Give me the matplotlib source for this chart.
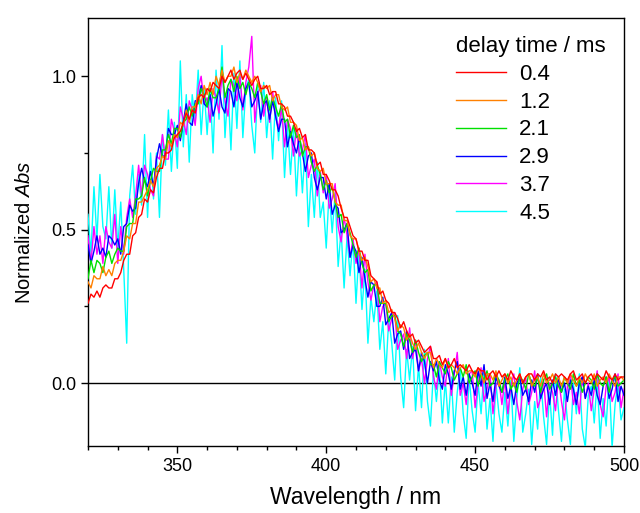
import numpy as np
import matplotlib
matplotlib.use("Agg")
import matplotlib.pyplot as plt
from matplotlib.ticker import MultipleLocator

plt.rcParams['font.family'] = ['Liberation Sans', 'DejaVu Sans']
plt.rcParams['mathtext.fontset'] = 'custom'
plt.rcParams['mathtext.rm'] = 'Liberation Sans'
plt.rcParams['mathtext.it'] = 'Liberation Sans:italic'

wavelength = np.arange(320, 501, 1)

delay_labels = ['0.4', '1.2', '2.1', '2.9', '3.7', '4.5']
colors = ['#ff0000', '#ff8000', '#00e000', '#0000ff', '#ff00ff', '#00ffff']

abs_04 = [
    0.26, 0.29, 0.28, 0.30, 0.28, 0.31, 0.32, 0.31, 0.31, 0.34,
    0.34, 0.36, 0.40, 0.42, 0.42, 0.48, 0.49, 0.54, 0.55, 0.60,
    0.59, 0.63, 0.62, 0.67, 0.70, 0.70, 0.75, 0.75, 0.76, 0.80,
    0.81, 0.82, 0.85, 0.88, 0.86, 0.89, 0.88, 0.93, 0.94, 0.93,
    0.96, 0.95, 0.98, 0.97, 0.96, 1.00, 0.98, 1.00, 1.02, 0.99,
    1.01, 1.02, 0.99, 1.01, 0.99, 0.97, 0.99, 1.00, 0.96, 0.96,
    0.97, 0.94, 0.95, 0.95, 0.91, 0.91, 0.90, 0.87, 0.87, 0.85,
    0.82, 0.83, 0.80, 0.81, 0.76, 0.76, 0.75, 0.71, 0.72, 0.68,
    0.68, 0.66, 0.63, 0.63, 0.61, 0.57, 0.54, 0.54, 0.51, 0.48,
    0.47, 0.43, 0.43, 0.40, 0.40, 0.35, 0.34, 0.33, 0.29, 0.30,
    0.27, 0.26, 0.23, 0.23, 0.21, 0.18, 0.20, 0.17, 0.15, 0.16,
    0.13, 0.14, 0.12, 0.10, 0.11, 0.12, 0.08, 0.08, 0.09, 0.06,
    0.08, 0.05, 0.06, 0.08, 0.05, 0.06, 0.05, 0.04, 0.06, 0.04,
    0.03, 0.05, 0.04, 0.04, 0.01, 0.03, 0.04, 0.02, 0.04, 0.02,
    0.03, 0.01, 0.04, 0.02, 0.01, 0.03, 0.00, 0.02, 0.03, 0.03,
    0.01, 0.03, 0.02, 0.04, 0.01, 0.02, 0.00, 0.03, 0.02, 0.03,
    0.02, 0.01, 0.03, 0.04, 0.01, 0.02, 0.03, 0.00, 0.02, 0.03,
    0.01, 0.03, 0.02, 0.01, 0.04, 0.02, 0.01, 0.03, 0.01, 0.02,
    0.02]

abs_12 = [
    0.33, 0.31, 0.35, 0.34, 0.34, 0.38, 0.35, 0.37, 0.35, 0.39,
    0.40, 0.40, 0.43, 0.48, 0.47, 0.52, 0.52, 0.59, 0.59, 0.61,
    0.63, 0.66, 0.64, 0.70, 0.71, 0.74, 0.73, 0.79, 0.77, 0.81,
    0.80, 0.85, 0.84, 0.89, 0.85, 0.90, 0.90, 0.94, 0.91, 0.97,
    0.94, 0.98, 0.94, 1.00, 0.97, 1.02, 0.98, 1.00, 1.00, 1.03,
    0.98, 1.01, 0.99, 1.02, 1.00, 0.98, 1.00, 0.98, 0.95, 0.97,
    0.96, 0.97, 0.92, 0.94, 0.94, 0.90, 0.89, 0.90, 0.85, 0.85,
    0.84, 0.79, 0.80, 0.76, 0.77, 0.74, 0.75, 0.70, 0.69, 0.70,
    0.65, 0.65, 0.65, 0.59, 0.58, 0.58, 0.53, 0.53, 0.48, 0.47,
    0.47, 0.43, 0.40, 0.41, 0.38, 0.33, 0.34, 0.31, 0.31, 0.26,
    0.27, 0.23, 0.24, 0.21, 0.17, 0.19, 0.18, 0.14, 0.16, 0.13,
    0.11, 0.13, 0.10, 0.08, 0.10, 0.10, 0.05, 0.08, 0.06, 0.05,
    0.08, 0.05, 0.06, 0.05, 0.03, 0.05, 0.06, 0.03, 0.04, 0.04,
    0.02, 0.05, 0.03, 0.00, 0.03, 0.03, 0.01, 0.04, -0.01, 0.01,
    0.03, 0.00, 0.02, -0.01, 0.01, 0.03, 0.00, 0.02, 0.03, -0.01,
    0.01, 0.02, -0.01, 0.03, 0.00, 0.01, 0.03, 0.00, 0.02, -0.01,
    0.02, 0.00, 0.03, 0.01, -0.01, 0.02, 0.00, 0.03, 0.01, 0.00,
    0.03, -0.01, 0.01, 0.02, 0.00, 0.03, 0.01, -0.01, 0.02, 0.02,
    0.01]

abs_21 = [
    0.34, 0.40, 0.36, 0.40, 0.39, 0.36, 0.41, 0.43, 0.39, 0.42,
    0.44, 0.43, 0.43, 0.51, 0.52, 0.52, 0.60, 0.60, 0.61, 0.67,
    0.61, 0.66, 0.70, 0.69, 0.69, 0.76, 0.76, 0.81, 0.78, 0.83,
    0.83, 0.80, 0.85, 0.86, 0.90, 0.87, 0.91, 0.91, 0.96, 0.94,
    0.90, 0.96, 0.93, 0.93, 0.96, 1.03, 0.93, 0.97, 0.99, 0.95,
    1.00, 0.96, 0.98, 0.94, 0.98, 0.96, 0.93, 0.98, 0.95, 0.91,
    0.94, 0.89, 0.93, 0.90, 0.87, 0.91, 0.85, 0.86, 0.80, 0.84,
    0.80, 0.81, 0.74, 0.77, 0.77, 0.72, 0.69, 0.71, 0.68, 0.63,
    0.66, 0.62, 0.64, 0.59, 0.54, 0.55, 0.49, 0.52, 0.49, 0.45,
    0.41, 0.44, 0.39, 0.36, 0.37, 0.30, 0.32, 0.32, 0.26, 0.26,
    0.26, 0.20, 0.22, 0.22, 0.17, 0.16, 0.12, 0.16, 0.14, 0.10,
    0.14, 0.10, 0.07, 0.09, 0.10, 0.06, 0.06, 0.02, 0.07, 0.05,
    0.03, 0.07, 0.05, 0.01, 0.03, 0.05, 0.02, 0.06, 0.00, 0.02,
    0.04, -0.01, 0.03, 0.01, 0.04, -0.01, 0.00, 0.03, 0.01, -0.03,
    0.01, 0.03, -0.02, 0.00, -0.03, 0.02, 0.01, -0.02, 0.03, 0.00,
    -0.01, 0.02, -0.03, 0.01, 0.03, -0.02, 0.00, 0.02, -0.01, -0.03,
    0.02, 0.00, -0.02, 0.03, -0.01, 0.01, -0.03, 0.00, 0.02, 0.01,
    -0.02, 0.03, 0.00, -0.01, 0.02, -0.03, 0.01, 0.02, -0.01, 0.00,
    0.01]

abs_29 = [
    0.45, 0.39, 0.43, 0.48, 0.42, 0.44, 0.41, 0.48, 0.47, 0.45,
    0.47, 0.42, 0.51, 0.52, 0.58, 0.56, 0.57, 0.65, 0.70, 0.66,
    0.64, 0.69, 0.64, 0.73, 0.78, 0.74, 0.74, 0.83, 0.81, 0.81,
    0.84, 0.79, 0.85, 0.91, 0.85, 0.84, 0.92, 0.92, 0.97, 0.91,
    0.90, 0.94, 0.87, 0.91, 0.96, 0.90, 0.88, 0.96, 0.95, 0.90,
    0.98, 0.93, 0.90, 0.96, 0.98, 0.90, 0.92, 0.95, 0.86, 0.91,
    0.92, 0.86, 0.92, 0.87, 0.82, 0.86, 0.86, 0.77, 0.82, 0.78,
    0.75, 0.80, 0.75, 0.69, 0.74, 0.75, 0.67, 0.63, 0.67, 0.67,
    0.60, 0.65, 0.55, 0.58, 0.57, 0.49, 0.50, 0.52, 0.41, 0.45,
    0.43, 0.36, 0.41, 0.34, 0.28, 0.33, 0.32, 0.25, 0.25, 0.28,
    0.19, 0.21, 0.23, 0.13, 0.16, 0.17, 0.11, 0.17, 0.08, 0.10,
    0.11, 0.04, 0.10, 0.07, 0.00, 0.07, 0.04, 0.07, 0.01, -0.02,
    0.06, 0.03, -0.02, 0.04, 0.07, -0.02, 0.02, -0.04, 0.03, 0.00,
    -0.04, 0.04, -0.01, 0.06, -0.05, 0.00, -0.06, 0.02, -0.01, -0.03,
    0.02, -0.05, -0.01, -0.07, 0.00, 0.02, -0.04, -0.02, -0.06, 0.01,
    -0.03, 0.03, -0.05, -0.02, 0.00, -0.07, 0.01, -0.04, 0.02, -0.03,
    0.00, -0.06, 0.01, -0.02, -0.07, 0.00, 0.02, -0.05, -0.01, -0.04,
    0.01, -0.04, -0.07, -0.01, 0.02, -0.05, -0.02, 0.03, -0.06, -0.01,
    -0.04]

abs_37 = [
    0.48, 0.39, 0.51, 0.42, 0.48, 0.39, 0.51, 0.46, 0.44, 0.55,
    0.39, 0.51, 0.42, 0.54, 0.60, 0.54, 0.61, 0.71, 0.61, 0.71,
    0.68, 0.63, 0.61, 0.74, 0.73, 0.81, 0.73, 0.73, 0.86, 0.82,
    0.77, 0.90, 0.86, 0.81, 0.92, 0.89, 0.84, 0.96, 1.00, 0.91,
    0.93, 0.85, 0.96, 0.93, 0.88, 1.01, 0.92, 0.87, 0.99, 0.97,
    0.92, 1.00, 0.89, 0.98, 1.03, 1.13, 0.85, 0.94, 0.97, 0.87,
    0.93, 0.85, 0.95, 0.87, 0.83, 0.90, 0.77, 0.86, 0.83, 0.74,
    0.83, 0.74, 0.76, 0.81, 0.67, 0.71, 0.73, 0.61, 0.69, 0.62,
    0.68, 0.57, 0.60, 0.65, 0.51, 0.46, 0.54, 0.48, 0.41, 0.47,
    0.39, 0.44, 0.31, 0.42, 0.33, 0.27, 0.32, 0.33, 0.20, 0.25,
    0.26, 0.17, 0.21, 0.23, 0.11, 0.14, 0.16, 0.08, 0.18, 0.08,
    0.14, 0.04, 0.08, 0.00, 0.08, 0.12, 0.02, -0.02, 0.07, 0.02,
    -0.01, 0.08, -0.04, 0.03, 0.10, -0.04, 0.00, -0.07, 0.03, 0.04,
    -0.08, 0.00, 0.05, -0.06, -0.02, 0.03, -0.10, -0.01, 0.01, -0.07,
    0.01, -0.10, -0.01, 0.03, -0.06, -0.12, -0.02, 0.02, -0.07, -0.03,
    0.04, -0.08, -0.05, 0.01, -0.11, 0.00, -0.03, -0.09, 0.02, -0.06,
    -0.12, -0.01, 0.03, -0.07, -0.03, -0.10, 0.02, -0.05, 0.00, -0.09,
    -0.02, 0.04, -0.07, -0.11, -0.01, 0.02, -0.06, -0.03, 0.03, -0.08,
    -0.02]

abs_45 = [
    0.55, 0.42, 0.64, 0.47, 0.68, 0.51, 0.47, 0.64, 0.44, 0.63,
    0.44, 0.59, 0.37, 0.13, 0.61, 0.71, 0.55, 0.68, 0.58, 0.81,
    0.54, 0.75, 0.60, 0.75, 0.54, 0.81, 0.71, 0.89, 0.69, 0.85,
    0.70, 1.05, 0.77, 0.94, 0.72, 0.94, 0.85, 1.02, 0.81, 0.96,
    0.81, 0.96, 0.75, 1.02, 0.86, 1.10, 0.80, 0.96, 0.76, 1.01,
    0.83, 1.05, 0.80, 0.96, 0.99, 0.84, 0.75, 0.97, 0.85, 0.98,
    0.80, 0.92, 0.73, 0.93, 0.79, 0.92, 0.67, 0.84, 0.68, 0.83,
    0.61, 0.78, 0.62, 0.78, 0.51, 0.68, 0.54, 0.72, 0.54, 0.59,
    0.44, 0.63, 0.49, 0.62, 0.38, 0.50, 0.31, 0.48, 0.35, 0.47,
    0.26, 0.43, 0.24, 0.37, 0.13, 0.28, 0.20, 0.30, 0.11, 0.20,
    0.03, 0.21, 0.13, 0.01, 0.22, 0.02, -0.08, 0.11, 0.01, 0.12,
    -0.09, 0.06, -0.08, 0.11, -0.06, -0.14, 0.04, -0.06, 0.05, -0.13,
    0.01, -0.13, 0.02, -0.16, -0.03, 0.05, -0.10, -0.18, 0.02, -0.09,
    -0.16, 0.00, -0.10, 0.04, -0.15, -0.05, -0.19, 0.00, -0.10, -0.16,
    -0.03, -0.14, 0.01, -0.19, -0.05, 0.05, -0.16, -0.10, -0.02, -0.20,
    -0.06, -0.15, 0.02, -0.11, -0.20, -0.03, -0.17, 0.03, -0.09, -0.19,
    -0.02, -0.12, -0.20, 0.00, -0.10, 0.03, -0.15, -0.21, -0.04, -0.01,
    -0.13, 0.01, -0.18, -0.05, -0.14, 0.02, -0.21, -0.07, 0.00, -0.12,
    -0.08]

spectra = [abs_04, abs_12, abs_21, abs_29, abs_37, abs_45]

fig = plt.figure(figsize=(6.4, 5.13), dpi=100)
ax = fig.add_axes([0.1375, 0.1306, 0.8375, 0.8344])

ax.axhline(0, color='black', lw=1.0, zorder=1)
for i, (y, c, lab) in enumerate(zip(spectra, colors, delay_labels)):
    ax.plot(wavelength, y, color=c, lw=1.0, label=lab, zorder=10 - i)

ax.set_xlim(320, 500)
ax.set_ylim(-0.205, 1.19)
ax.xaxis.set_major_locator(MultipleLocator(50))
ax.xaxis.set_minor_locator(MultipleLocator(10))
ax.yaxis.set_major_locator(MultipleLocator(0.5))
ax.yaxis.set_minor_locator(MultipleLocator(0.25))
ax.yaxis.set_major_formatter(plt.FormatStrFormatter('%.1f'))
ax.tick_params(which='major', direction='out', length=5, width=1, labelsize=13)
ax.tick_params(which='minor', direction='out', length=3, width=1)
for s in ax.spines.values():
    s.set_linewidth(1.0)

ax.set_xlabel('Wavelength / nm', fontsize=16.5, labelpad=8)
ax.set_ylabel('Normalized $\\mathit{Abs}$', fontsize=14.5, labelpad=12)

ax.legend(title='delay time / ms', loc='upper left', bbox_to_anchor=(0.67, 0.979),
          borderaxespad=0, frameon=False, fontsize=16, title_fontsize=16,
          handlelength=2.25, handletextpad=0.6, labelspacing=0.31,
          alignment='left')

plt.savefig('out.png', dpi=100)
